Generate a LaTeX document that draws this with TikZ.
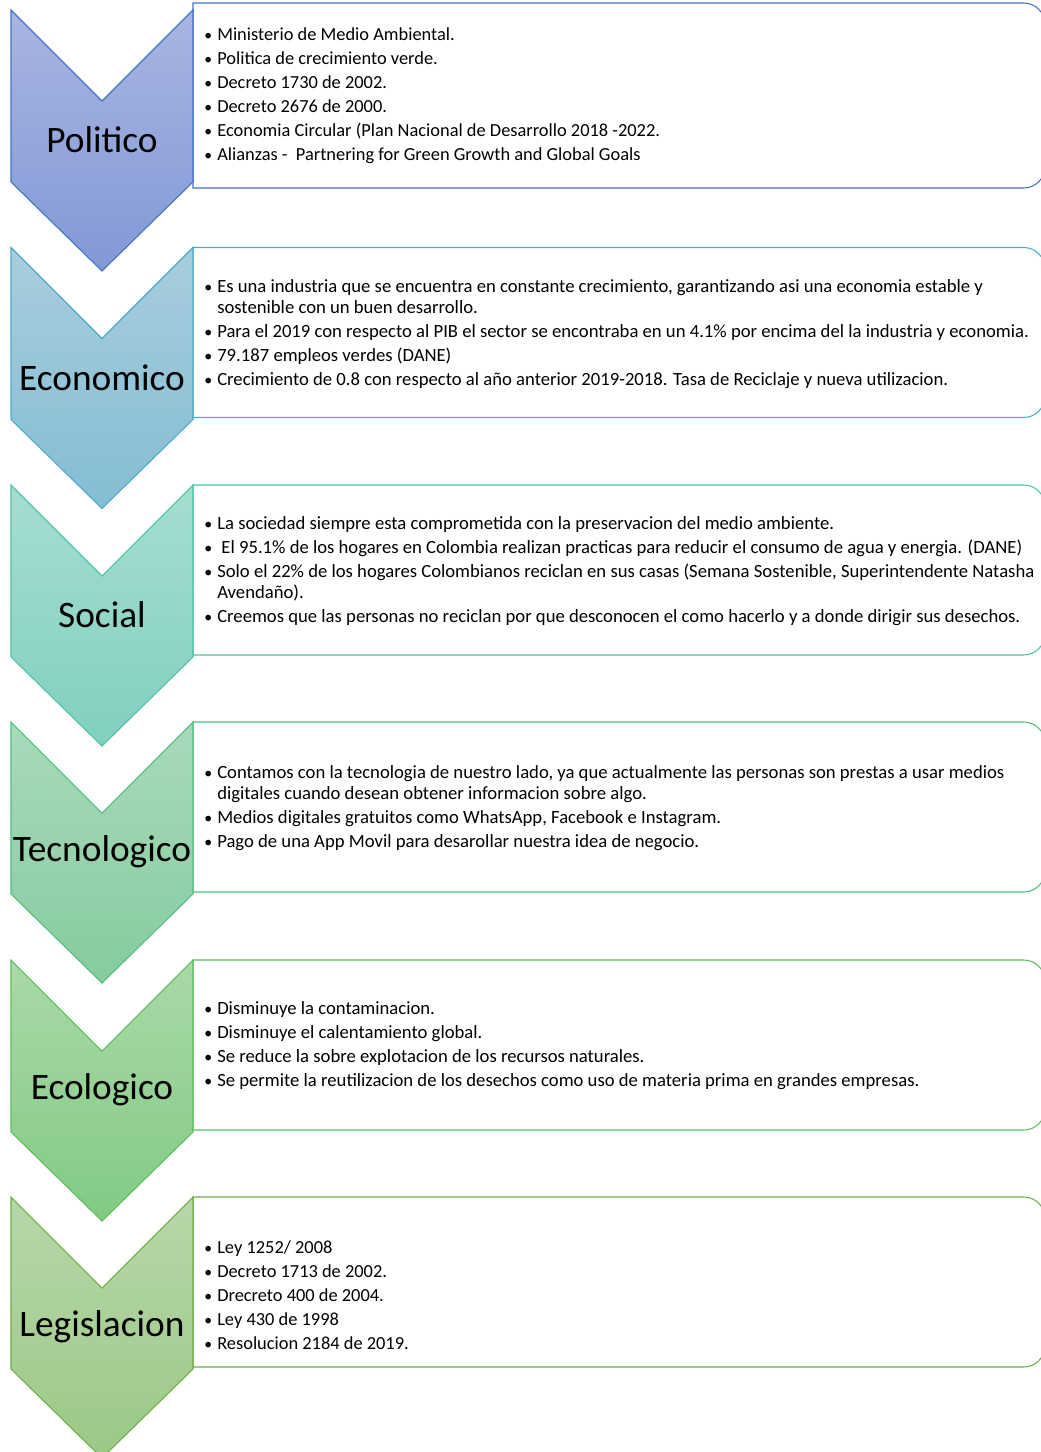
\documentclass[tikz,border=0pt]{standalone}
\usepackage{fontspec}
\setmainfont{Carlito}
\usetikzlibrary{calc}
\tikzset{>=latex}
\definecolor{polArr}{HTML}{A9B5E1}\definecolor{polAba}{HTML}{8298D6}\definecolor{polBor}{HTML}{4472C4}
\definecolor{ecoArr}{HTML}{A7CDDD}\definecolor{ecoAba}{HTML}{84BDD3}\definecolor{ecoBor}{HTML}{4BACC6}
\definecolor{socArr}{HTML}{A6DDD1}\definecolor{socAba}{HTML}{80D0BF}\definecolor{socBor}{HTML}{4FC3A5}
\definecolor{tecArr}{HTML}{A8DABB}\definecolor{tecAba}{HTML}{86CB9F}\definecolor{tecBor}{HTML}{50BF80}
\definecolor{ecgArr}{HTML}{AAD9A8}\definecolor{ecgAba}{HTML}{82CA84}\definecolor{ecgBor}{HTML}{5DBE5F}
\definecolor{legArr}{HTML}{B7D7A9}\definecolor{legAba}{HTML}{9CC886}\definecolor{legBor}{HTML}{70AD47}
\tikzset{
  titulo/.style={font=\fontsize{28}{32}\selectfont,inner sep=0pt},
  lista/.style={anchor=west,align=left,inner sep=0pt,font=\fontsize{13.8}{18}\selectfont},
  listac/.style={lista,font=\fontsize{14}{15.75}\selectfont}
}
\newcommand{\pto}{\makebox[8.25pt][l]{\hspace*{-1.5pt}\scalebox{0.85}{•}}}
\newcommand{\sang}{\hspace*{8.25pt}}
\newcommand{\flecha}[6]{%
  \shade[top color=#3,bottom color=#4,draw=#5,line width=0.8pt]
    (11,#2) -- (102,#2+91) -- (193,#2) -- (193,#2+172) -- (102,#2+261) -- (11,#2+172) -- cycle;
  \node[titulo] (#1) at (102,#2+130) {#6};
}
\newcommand{\caja}[3]{%
  \draw[#3,line width=0.8pt,fill=white] (193,#2) -- (193,#1) [rounded corners=16pt] -- (1045,#1)
    -- (1045,#2) [sharp corners] -- cycle;
}

\begin{document}
\begin{tikzpicture}[x=0.75pt,y=-0.75pt]
  \useasboundingbox (0,0) rectangle (1041,1452);
  \clip (0,0) rectangle (1041,1452);
  \caja{3}{188}{polBor}
  \caja{247.5}{417.5}{ecoBor}
  \caja{485}{655}{socBor}
  \caja{722}{892}{tecBor}
  \caja{960}{1130}{ecgBor}
  \caja{1197}{1367}{legBor}
  \flecha{politico}{10}{polArr}{polAba}{polBor}{Politico}
  \flecha{economico}{247.5}{ecoArr}{ecoAba}{ecoBor}{Economico}
  \flecha{social}{485}{socArr}{socAba}{socBor}{Social}
  \flecha{tecnologico}{722}{tecArr}{tecAba}{tecBor}{Tecnologico}
  \flecha{ecologico}{960}{ecgArr}{ecgAba}{ecgBor}{Ecologico}
  \flecha{legislacion}{1197}{legArr}{legAba}{legBor}{Legislacion}
  \node[lista] (politico-txt) at (206,96) {\pto Ministerio de Medio Ambiental.\\
    \pto Politica de crecimiento verde.\\
    \pto Decreto 1730 de 2002.\\
    \pto Decreto 2676 de 2000.\\
    \pto Economia Circular (Plan Nacional de Desarrollo 2018 -2022.\\
    \pto Alianzas -\ \ Partnering for Green Growth and Global Goals};
  \node[listac] (economico-txt) at (206,334) {\pto Es una industria que se encuentra en constante crecimiento, garantizando asi una economia estable y\\
    \sang sostenible con un buen desarrollo.\\[2.25pt]
    \pto Para el 2019 con respecto al PIB el sector se encontraba en un 4.1\% por encima del la industria y economia.\\[2.25pt]
    \pto 79.187 empleos verdes (DANE)\\[2.25pt]
    \pto Crecimiento de 0.8 con respecto al año anterior 2019-2018. Tasa de Reciclaje y nueva utilizacion.};
  \node[listac] (social-txt) at (206,571.5) {\pto La sociedad siempre esta comprometida con la preservacion del medio ambiente.\\[2.25pt]
    \pto\ El 95.1\% de los hogares en Colombia realizan practicas para reducir el consumo de agua y energia. (DANE)\\[2.25pt]
    \pto Solo el 22\% de los hogares Colombianos reciclan en sus casas (Semana Sostenible, Superintendente Natasha\\
    \sang Avendaño).\\[2.25pt]
    \pto Creemos que las personas no reciclan por que desconocen el como hacerlo y a donde dirigir sus desechos.};
  \node[listac] (tecnologico-txt) at (206,808.5) {\pto Contamos con la tecnologia de nuestro lado, ya que actualmente las personas son prestas a usar medios\\
    \sang digitales cuando desean obtener informacion sobre algo.\\[2.25pt]
    \pto Medios digitales gratuitos como WhatsApp, Facebook e Instagram.\\[2.25pt]
    \pto Pago de una App Movil para desarollar nuestra idea de negocio.};
  \node[listac] (ecologico-txt) at (206,1045.5) {\pto Disminuye la contaminacion.\\[2.25pt]
    \pto Disminuye el calentamiento global.\\[2.25pt]
    \pto Se reduce la sobre explotacion de los recursos naturales.\\[2.25pt]
    \pto Se permite la reutilizacion de los desechos como uso de materia prima en grandes empresas.};
  \node[lista] (legislacion-txt) at (206,1295) {\pto Ley 1252/ 2008\\
    \pto Decreto 1713 de 2002.\\
    \pto Drecreto 400 de 2004.\\
    \pto Ley 430 de 1998\\
    \pto Resolucion 2184 de 2019.};
\end{tikzpicture}
\end{document}
